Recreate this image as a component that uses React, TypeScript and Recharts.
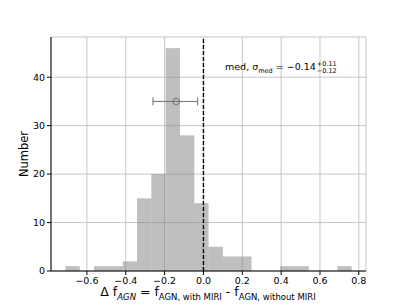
import {
  ComposedChart,
  Bar,
  XAxis,
  YAxis,
  CartesianGrid,
  ReferenceLine,
  ReferenceArea,
  Scatter,
  ErrorBar,
} from "recharts";

// histogram bin centres (20 bins, width ~0.0737) and counts
const binCenters = [
  -0.674, -0.6005, -0.5268, -0.4531, -0.3794, -0.3057, -0.232, -0.1583,
  -0.0846, -0.0109, 0.0628, 0.1365, 0.2102, 0.2839, 0.3576, 0.4313, 0.505,
  0.5787, 0.6524, 0.7261,
];
const counts = [1, 0, 1, 1, 2, 15, 20, 46, 28, 14, 5, 3, 3, 0, 0, 1, 1, 0, 0, 1];
const binWidth = 0.0737;

const xTicks = [-0.6, -0.4, -0.2, 0, 0.2, 0.4, 0.6, 0.8];
const yTicks = [0, 10, 20, 30, 40];

// median with asymmetric errors
const medPoint = [{ x: -0.14, y: 35, err: [0.12, 0.11] }];

const histData = binCenters.map((c, i) => ({ x: c, count: counts[i] }));

const xDomain: [number, number] = [-0.785, 0.837];
const W = 407;
const H = 305;
const margin = { top: 37, right: 41, left: 0, bottom: 0 };
const yAxisW = 51;
const plotW = W - margin.left - margin.right - yAxisW;
const barPx = (binWidth / (xDomain[1] - xDomain[0])) * plotW;

const font = "DejaVu Sans, sans-serif";

const fmt = (v: number) => {
  const s = Math.abs(v).toFixed(1);
  return v < 0 ? "\u2212" + s : s;
};

// full bin-width rect around the bar centre
const HistBar = (p: any) => {
  if (!p.height) return null;
  const cx = p.x + p.width / 2;
  return (
    <rect
      x={cx - barPx / 2}
      y={p.y}
      width={barPx}
      height={p.height}
      fill="#808080"
      fillOpacity={0.5}
    />
  );
};

export default function App() {
  return (
    <div style={{ position: "absolute", left: 0, top: 0, width: W, height: H, background: "#fff" }}>
      <ComposedChart width={W} height={H} data={histData} margin={margin} barGap={0}>
        <CartesianGrid stroke="#b8b8b8" strokeWidth={0.8} />
        <XAxis
          dataKey="x"
          type="number"
          domain={xDomain}
          ticks={xTicks}
          allowDataOverflow
          tickFormatter={fmt}
          height={34}
          tickSize={4}
          stroke="#000"
          tick={{ fill: "#000", fontSize: 9.5, fontFamily: font }}
        />
        <YAxis
          type="number"
          domain={[0, 48.3]}
          ticks={yTicks}
          allowDataOverflow
          width={yAxisW}
          tickSize={4}
          stroke="#000"
          tick={{ fill: "#000", fontSize: 9.5, fontFamily: font }}
        />
        <Bar dataKey="count" shape={HistBar} isAnimationActive={false} />
        <ReferenceLine x={0} stroke="#000" strokeWidth={1.4} strokeDasharray="4 2" />
        <Scatter
          data={medPoint}
          dataKey="y"
          isAnimationActive={false}
          fill="none"
          stroke="#707070"
          shape={(p: any) => (
            <circle cx={p.cx} cy={p.cy} r={3.3} fill="none" stroke="#707070" strokeWidth={1} />
          )}
        >
          <ErrorBar dataKey="err" direction="x" width={4} stroke="#707070" strokeWidth={1} />
        </Scatter>
        <ReferenceArea fill="none" stroke="#000" strokeWidth={1} />
      </ComposedChart>

      <svg width={W} height={H} style={{ position: "absolute", left: 0, top: 0, pointerEvents: "none" }}>
        <text
          x={0}
          y={0}
          transform="translate(24,154) rotate(-90)"
          textAnchor="middle"
          dominantBaseline="central"
          fontFamily={font}
          fontSize={11.5}
          fill="#000"
        >
          Number
        </text>
      </svg>

      <div
        style={{
          position: "absolute",
          left: 225,
          top: 61,
          fontFamily: font,
          fontSize: 9.5,
          color: "#000",
          whiteSpace: "nowrap",
          display: "flex",
          alignItems: "center",
        }}
      >
        <span>
          med, σ<sub style={{ fontSize: 6.5 }}>med</sub> = −0.14
        </span>
        <span
          style={{
            display: "inline-flex",
            flexDirection: "column",
            fontSize: 6.5,
            lineHeight: "7px",
            marginLeft: 1,
          }}
        >
          <span>+0.11</span>
          <span>−0.12</span>
        </span>
      </div>

      <div
        style={{
          position: "absolute",
          left: 0,
          width: 416,
          top: 285,
          textAlign: "center",
          fontFamily: font,
          fontSize: 12.5,
          lineHeight: "14px",
          color: "#000",
          whiteSpace: "nowrap",
        }}
      >
        Δ f<sub style={{ fontSize: 8.5, fontStyle: "italic" }}>AGN</sub> = f
        <sub style={{ fontSize: 8.5 }}>AGN, with MIRI</sub> - f
        <sub style={{ fontSize: 8.5 }}>AGN, without MIRI</sub>
      </div>
    </div>
  );
}
